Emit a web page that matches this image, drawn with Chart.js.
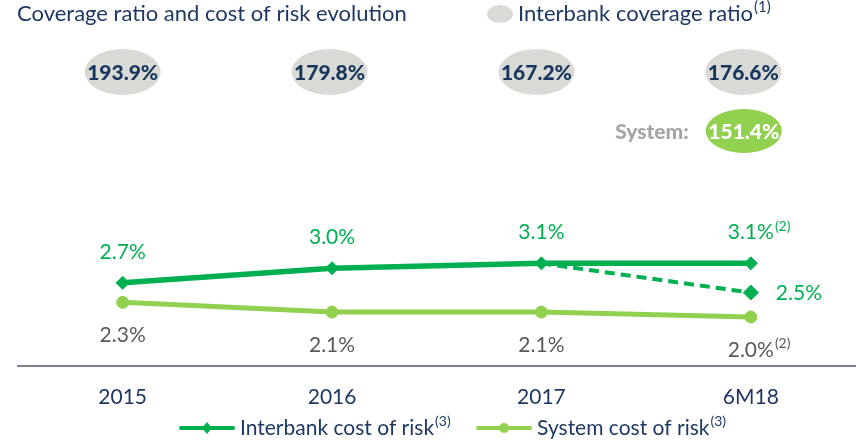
<!DOCTYPE html>
<html lang="en">
<head>
    <meta charset="UTF-8">
    <script src="https://cdn.jsdelivr.net/npm/chart.js"></script>
    <title>Coverage ratio and cost of risk</title>
    <style>
        html, body { margin: 0; padding: 0; background: #fff; overflow: hidden; }
        #wrap { width: 856px; height: 442px; overflow: hidden; }
    </style>
</head>
<body>
    <div id="wrap">
        <canvas id="myChart" width="864" height="442"></canvas>
    </div>
<script>
    // data
    const categories = ['2015', '2016', '2017', '6M18'];
    const interbankCoverage = [193.9, 179.8, 167.2, 176.6];
    const systemCoverage = 151.4;
    const interbankCoR = [2.7, 3.0, 3.1, 3.1];
    const interbankCoRAdj = [null, null, 3.1, 2.5];
    const systemCoR = [2.3, 2.1, 2.1, 2.0];
    const interbankNotes = ['', '', '', '(2)'];
    const systemNotes = ['', '', '', '(2)'];

    const NAVY = '#1F3864';
    const GREEN = '#00B050';
    const LIGHT = '#92D050';
    const GREY = '#595959';
    const FONT = 'Lato, "Noto Sans", sans-serif';

    function pct(v) { return v.toFixed(1) + '%'; }

    // text with an optional superscript note after it
    function textWithNote(ctx, txt, note, x, y, size, align) {
        ctx.font = size + 'px ' + FONT;
        const w = ctx.measureText(txt).width;
        let left = align === 'center' ? x - w / 2 : x;
        ctx.textAlign = 'left';
        ctx.fillText(txt, left, y);
        if (note) {
            ctx.font = Math.round(size * 0.68) + 'px ' + FONT;
            ctx.fillText(note, left + w + 1, y - size * 0.3);
        }
    }

    function ellipse(ctx, cx, cy, rx, ry, fill) {
        ctx.beginPath();
        ctx.ellipse(cx, cy, rx, ry, 0, 0, Math.PI * 2);
        ctx.fillStyle = fill;
        ctx.fill();
    }

    const decor = {
        id: 'decor',
        afterDraw(chart) {
            const ctx = chart.ctx;
            const xs = chart.scales.x;
            ctx.save();
            ctx.textBaseline = 'middle';

            // title + header legend
            ctx.fillStyle = NAVY;
            textWithNote(ctx, 'Coverage ratio and cost of risk evolution', '', 17, 14, 22, 'left');
            ellipse(ctx, 500, 14, 13, 9, '#D9D9D6');
            ctx.fillStyle = NAVY;
            textWithNote(ctx, 'Interbank coverage ratio', '(1)', 518, 14, 22, 'left');

            // coverage bubbles
            interbankCoverage.forEach((v, i) => {
                const cx = xs.getPixelForValue(i) - i * 2.5;
                ellipse(ctx, cx, 72, 38, 23, '#D9D9D6');
                ctx.fillStyle = '#17365D';
                ctx.font = '900 21px ' + FONT;
                ctx.textAlign = 'center';
                ctx.fillText(pct(v), cx, 73);
            });
            const lastX = xs.getPixelForValue(categories.length - 1) - 7;
            ellipse(ctx, lastX, 131, 38, 22, LIGHT);
            ctx.fillStyle = '#fff';
            ctx.font = '900 21px ' + FONT;
            ctx.textAlign = 'center';
            ctx.fillText(pct(systemCoverage), lastX, 132);
            ctx.fillStyle = '#A6A6A6';
            ctx.textAlign = 'right';
            ctx.fillText('System:', lastX - 55, 132);

            // point labels
            const m0 = chart.getDatasetMeta(0);
            const m1 = chart.getDatasetMeta(1);
            const m2 = chart.getDatasetMeta(2);
            ctx.fillStyle = GREEN;
            m0.data.forEach((p, i) => {
                textWithNote(ctx, pct(interbankCoR[i]), interbankNotes[i], p.x, p.y - 31, 21, 'center');
            });
            const pAdj = m1.data[3];
            textWithNote(ctx, pct(interbankCoRAdj[3]), '', pAdj.x + 25, pAdj.y + 1, 21, 'left');
            ctx.fillStyle = GREY;
            m2.data.forEach((p, i) => {
                textWithNote(ctx, pct(systemCoR[i]), systemNotes[i], p.x, p.y + 33, 21, 'center');
            });

            // bottom legend: line with marker, then label
            const items = [
                { ds: chart.data.datasets[0], label: 'Interbank cost of risk' },
                { ds: chart.data.datasets[2], label: 'System cost of risk' }
            ];
            let lx = 179;
            const ly = 428;
            items.forEach(it => {
                ctx.strokeStyle = it.ds.borderColor;
                ctx.lineWidth = 4;
                ctx.lineCap = 'round';
                ctx.beginPath();
                ctx.moveTo(lx + 2, ly);
                ctx.lineTo(lx + 54, ly);
                ctx.stroke();
                ctx.fillStyle = it.ds.borderColor;
                ctx.beginPath();
                if (it.ds.pointStyle === 'rectRot') {
                    ctx.moveTo(lx + 28, ly - 6);
                    ctx.lineTo(lx + 33, ly);
                    ctx.lineTo(lx + 28, ly + 6);
                    ctx.lineTo(lx + 23, ly);
                } else {
                    ctx.arc(lx + 28, ly, 5, 0, Math.PI * 2);
                }
                ctx.fill();
                ctx.fillStyle = NAVY;
                textWithNote(ctx, it.label, '(3)', lx + 61, ly, 21, 'left');
                ctx.font = '21px ' + FONT;
                const w = ctx.measureText(it.label).width;
                lx += 61 + w + 22 + 20;
            });
            ctx.restore();
        }
    };

    const ctx = document.getElementById('myChart');
    new Chart(ctx, {
        type: 'line',
        data: {
            labels: categories,
            datasets: [{
                label: 'Interbank cost of risk',
                data: interbankCoR,
                borderColor: GREEN,
                backgroundColor: GREEN,
                borderWidth: 5.5,
                pointStyle: 'rectRot',
                pointRadius: 6.5,
                pointBorderWidth: 1
            }, {
                label: 'Interbank cost of risk adj.',
                data: interbankCoRAdj,
                borderColor: GREEN,
                backgroundColor: GREEN,
                borderWidth: 4,
                borderDash: [10, 6],
                pointStyle: 'rectRot',
                pointRadius: [0, 0, 0, 7.5],
                pointBorderWidth: 1
            }, {
                label: 'System cost of risk',
                data: systemCoR,
                borderColor: LIGHT,
                backgroundColor: LIGHT,
                borderWidth: 5,
                pointStyle: 'circle',
                pointRadius: 6,
                pointBorderWidth: 1
            }]
        },
        options: {
            responsive: false,
            animation: false,
            layout: { padding: { top: 73, left: 18, right: 0, bottom: 13 } },
            plugins: {
                legend: { display: false },
                tooltip: { enabled: false }
            },
            scales: {
                x: {
                    offset: true,
                    grid: { display: false, drawTicks: false },
                    border: { color: '#7F7F8F', width: 2 },
                    ticks: { color: NAVY, font: { family: FONT, size: 21 }, padding: 19 }
                },
                y: {
                    display: false,
                    min: 1,
                    max: 7
                }
            }
        },
        plugins: [decor]
    });
</script>
</body>
</html>
